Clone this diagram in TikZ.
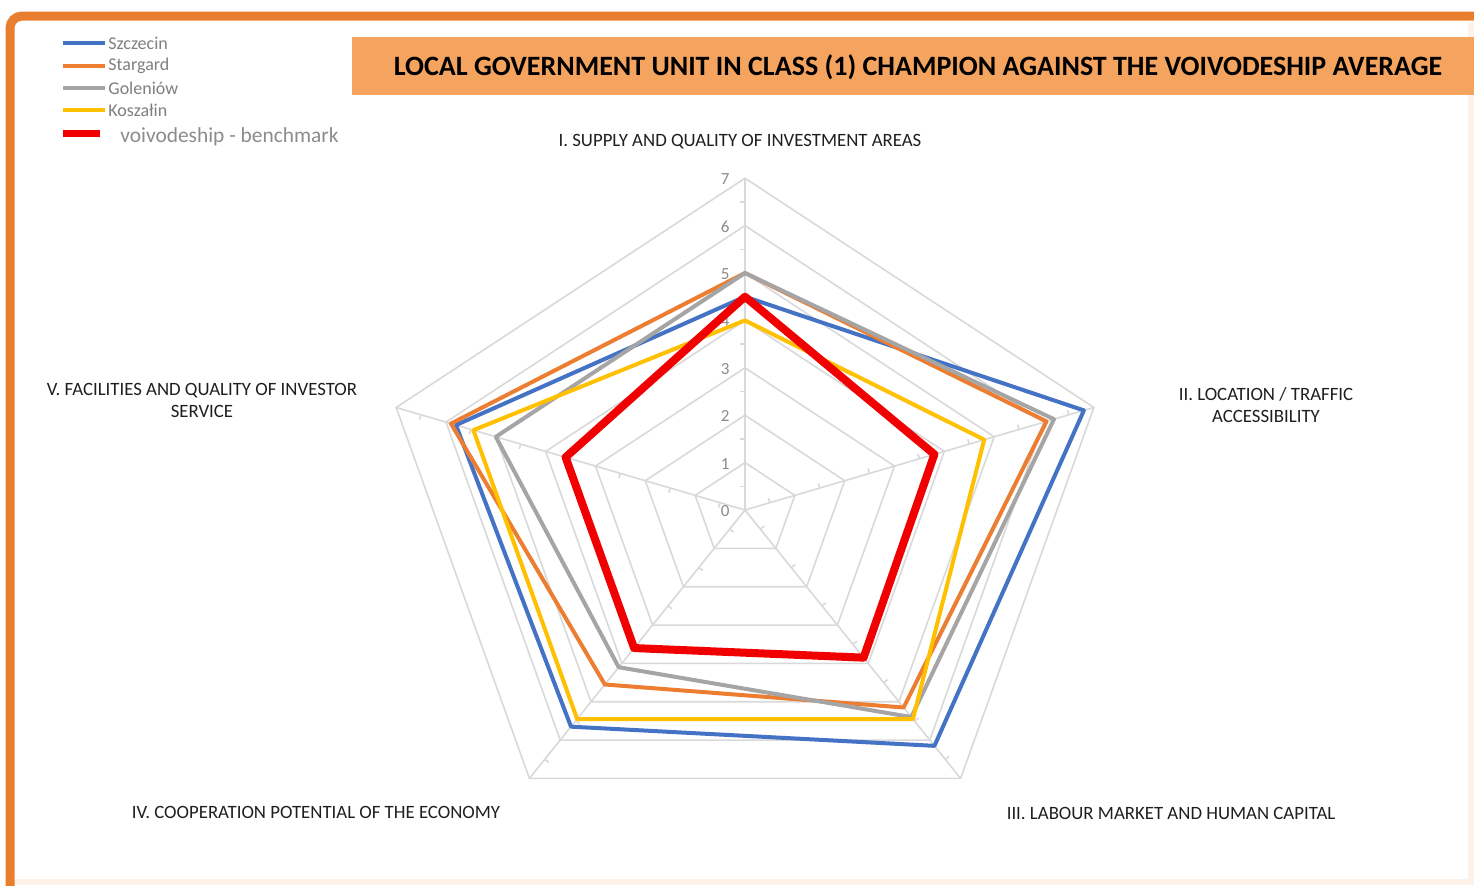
\documentclass[tikz,border=0pt]{standalone}
\usepackage{fontspec}
\setmainfont{Carlito}
\definecolor{frameor}{HTML}{E97F2E}
\definecolor{titlefill}{HTML}{F5A460}
\definecolor{sblue}{HTML}{4472C4}
\definecolor{sorange}{HTML}{ED7D31}
\definecolor{sgray}{HTML}{A5A5A5}
\definecolor{syellow}{HTML}{FFC000}
\definecolor{sred}{HTML}{F00000}
\definecolor{gridc}{HTML}{D9D9D9}
\definecolor{labgray}{HTML}{7F7F7F}
\definecolor{numgray}{HTML}{8C8C8C}
\newcommand\radarpt[3]{\coordinate (#1) at ({745+(#2)*52.4*cos(90-72*(#3))},{510-(#2)*47.4*sin(90-72*(#3))});}
\begin{document}
\begin{tikzpicture}[x=0.5pt,y=-0.5pt,
  gridline/.style={gridc, line width=0.8pt},
  ser/.style={line width=2pt, line join=round},
  serred/.style={line width=4pt, line join=round, sred},
  axlab/.style={font=\fontsize{9.4}{11}\selectfont, text=black!88, align=center, inner sep=0pt},
  numlab/.style={font=\fontsize{8.5}{9}\selectfont, text=numgray, inner sep=0pt, anchor=east},
  legtext/.style={font=\fontsize{9}{10}\selectfont, text=labgray, inner sep=0pt, anchor=west},
  legline/.style={line width=2.2pt}]
\useasboundingbox (0,0) rectangle (1474,885);
\fill[white] (0,0) rectangle (1474,885);
% frame
\draw[frameor!10, line width=3pt] (14,882) -- (1471,882) -- (1471,22);
\draw[frameor, line width=4.5pt, rounded corners=6pt] (10,900) -- (10,16) -- (1490,16);
% title
\node[fill=titlefill, minimum width=561pt, minimum height=29pt, inner sep=0pt, anchor=north west] (title) at (352,37) {};
\node[font=\fontsize{14}{16}\selectfont\bfseries, inner sep=0pt] (titletext) at (918,67)
  {LOCAL GOVERNMENT UNIT IN CLASS (1) CHAMPION AGAINST THE VOIVODESHIP AVERAGE};
% grid
\coordinate (O) at (745,510);
\foreach \k in {0,...,4}{
  \foreach \v in {1,...,7}{ \radarpt{g\v-\k}{\v}{\k} }
}
\foreach \v in {1,...,7}
  \draw[gridline] (g\v-0) -- (g\v-1) -- (g\v-2) -- (g\v-3) -- (g\v-4) -- cycle;
\foreach \k in {0,...,4}{
  \draw[gridline] (O) -- (g7-\k);
  \foreach \v in {0.5,1.5,...,6.5}
    \draw[gridline] ({745+\v*52.4*cos(90-72*\k)},{510-\v*47.4*sin(90-72*\k)}) -- ++({-5*sin(90-72*\k)},{-5*cos(90-72*\k)});
}
\foreach \v in {0,...,7}
  \node[numlab] (n\v) at (730,{511-\v*47.4}) {\v};
% series
\foreach \s/\a/\b/\c/\d/\e in {b/4.5/6.8/6.15/5.65/5.8, o/5.0/6.05/5.15/4.55/5.9, g/5.0/6.2/5.4/4.1/5.0, y/4.0/4.8/5.45/5.45/5.45, r/4.5/3.8/3.85/3.6/3.6}{
  \radarpt{\s0}{\a}{0}\radarpt{\s1}{\b}{1}\radarpt{\s2}{\c}{2}\radarpt{\s3}{\d}{3}\radarpt{\s4}{\e}{4}
}
\draw[ser, sblue] (b0) -- (b1) -- (b2) -- (b3) -- (b4) -- cycle;
\draw[ser, sorange] (o0) -- (o1) -- (o2) -- (o3) -- (o4) -- cycle;
\draw[ser, sgray] (g0) -- (g1) -- (g2) -- (g3) -- (g4) -- cycle;
\draw[ser, syellow] (y0) -- (y1) -- (y2) -- (y3) -- (y4) -- cycle;
\draw[serred] (r0) -- (r1) -- (r2) -- (r3) -- (r4) -- cycle;
% axis labels
\node[axlab] (l1) at (740,142) {I. SUPPLY AND QUALITY OF INVESTMENT AREAS};
\node[axlab] (l2) at (1266,405) {II. LOCATION / TRAFFIC\\ACCESSIBILITY};
\node[axlab] (l3) at (1171,813) {III. LABOUR MARKET AND HUMAN CAPITAL};
\node[axlab] (l4) at (316,812) {IV. COOPERATION POTENTIAL OF THE ECONOMY};
\node[axlab] (l5) at (202,400) {V. FACILITIES AND QUALITY OF INVESTOR\\SERVICE};
% legend
\coordinate (lb1) at (63,43); \coordinate (lb2) at (105,43);
\coordinate (lo1) at (63,66); \coordinate (lo2) at (105,66);
\coordinate (lg1) at (63,88); \coordinate (lg2) at (105,88);
\coordinate (ly1) at (63,110); \coordinate (ly2) at (105,110);
\coordinate (lr1) at (63,133); \coordinate (lr2) at (100,133);
\draw[legline, sblue] (lb1) -- (lb2);
\draw[legline, sorange] (lo1) -- (lo2);
\draw[legline, sgray] (lg1) -- (lg2);
\draw[legline, syellow] (ly1) -- (ly2);
\draw[line width=3.5pt, sred] (lr1) -- (lr2);
\node[legtext] (t1) at (108,43) {Szczecin};
\node[legtext] (t2) at (108,66) {Stargard};
\node[legtext] (t3) at (108,88) {Goleniów};
\node[legtext] (t4) at (108,110) {Koszałin};
\node[inner sep=0pt, anchor=west, font=\fontsize{10.7}{12}\selectfont, text=numgray] (t5) at (120,137) {voivodeship - benchmark};
\end{tikzpicture}
\end{document}
